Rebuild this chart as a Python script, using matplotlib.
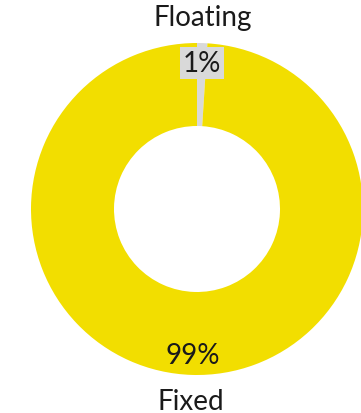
import matplotlib
matplotlib.use("Agg")
import matplotlib.pyplot as plt
import numpy as np

# rate type split
labels = ["Floating", "Fixed"]
shares = [1, 99]
colors = ["#d9d9d9", "#f2de00"]

plt.rcParams['font.family'] = ['Lato', 'DejaVu Sans']

fig = plt.figure(figsize=(3.61, 4.14), dpi=100)
ax = fig.add_axes([31 / 361, 38 / 414, 332 / 361, 332 / 414])

wedges, texts, autotexts = ax.pie(
    shares, labels=labels, colors=colors, startangle=90, counterclock=False,
    radius=1.0, labeldistance=1.155, pctdistance=0.88,
    autopct=lambda p: f"{p:.0f}%",
    wedgeprops=dict(width=0.5, edgecolor="none"),
    textprops=dict(fontsize=20, color="#1a1a1a"))

for t in texts + autotexts:
    t.set_ha("center")
    t.set_va("center")

# small slice label gets a box in its own colour
autotexts[0].set_bbox(dict(facecolor=colors[0], edgecolor="none", pad=2))

ax.set_xlim(-1, 1)
ax.set_ylim(-1, 1)
ax.set_aspect("equal")
ax.axis("off")

fig.savefig("out.png", dpi=100)
